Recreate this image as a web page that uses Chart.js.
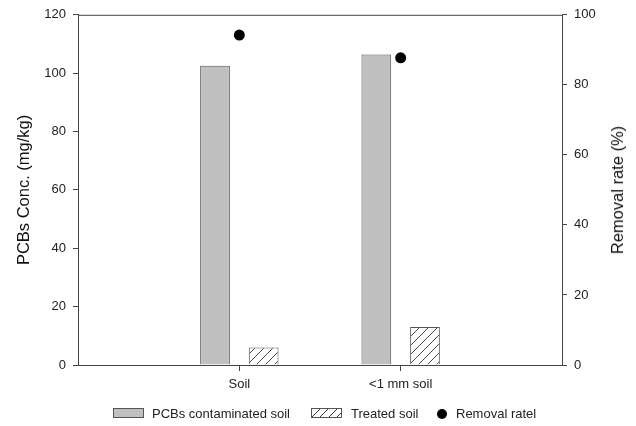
<!DOCTYPE html>
<html>
<head>
<meta charset="utf-8">
<script src="https://cdn.jsdelivr.net/npm/chart.js@4.4.1/dist/chart.umd.min.js"></script>
<style>
    body { margin: 0; background: #fff; font-family: "Liberation Sans", Arial, sans-serif; }
    #wrap { position: relative; width: 636px; height: 426px; }
    .sw { position: absolute; top: 408px; width: 31px; height: 10px; box-sizing: border-box; border: 1px solid #555; }
    .txt { position: absolute; top: 406px; font-size: 13px; line-height: 15px; color: #222; white-space: nowrap; }
    .dot { position: absolute; top: 409px; left: 437px; width: 10px; height: 10px; border-radius: 50%; background: #000; }
    #rtitle { position: absolute; left: 617px; top: 189.5px; transform: translate(-50%, -50%) rotate(-90deg);
              font-size: 16.5px; line-height: 20px; color: #111; white-space: nowrap; }
</style>
</head>
<body>
<div id="wrap">
    <canvas id="chart" width="636" height="426"></canvas>
    <div id="rtitle">Removal rate (%)</div>
    <div class="sw" style="left:113px;background:#c0c0c0;"></div>
    <div class="txt" style="left:152px;">PCBs contaminated soil</div>
    <div class="sw" style="left:311px;background:repeating-linear-gradient(135deg,#fff 0 5px,#333 5px 6px);"></div>
    <div class="txt" style="left:351px;">Treated soil</div>
    <div class="dot"></div>
    <div class="txt" style="left:456px;">Removal ratel</div>
</div>
<script>
const categories = ["", "Soil", "<1 mm soil", ""];
const contaminated = [null, 102.5, 106.4, null];
const treated = [null, 6.0, 13.0, null];
const removalRate = [null, 94.2, 87.7, null];

const axisColor = "#444";
const tickFont = { family: "'Liberation Sans', Arial, sans-serif", size: 13 };
const titleFont = { family: "'Liberation Sans', Arial, sans-serif", size: 16.5 };

function hatchPattern() {
    const c = document.createElement("canvas");
    c.width = 9; c.height = 9;
    const g = c.getContext("2d");
    g.fillStyle = "#fff";
    g.fillRect(0, 0, 9, 9);
    g.strokeStyle = "#333";
    g.lineWidth = 0.9;
    g.beginPath();
    g.moveTo(0, 9); g.lineTo(9, 0);
    g.moveTo(-1, 1); g.lineTo(1, -1);
    g.moveTo(8, 10); g.lineTo(10, 8);
    g.stroke();
    return g.createPattern(c, "repeat");
}

// top line of the plot frame
const frame = {
    id: "frame",
    afterDraw(chart) {
        const { ctx, chartArea: a } = chart;
        ctx.save();
        ctx.strokeStyle = axisColor;
        ctx.lineWidth = 1;
        ctx.beginPath();
        ctx.moveTo(a.left, a.top + 0.5);
        ctx.lineTo(a.right, a.top + 0.5);
        ctx.stroke();
        ctx.restore();
    }
};

const ctx = document.getElementById("chart").getContext("2d");
new Chart(ctx, {
    type: "bar",
    data: {
        labels: categories,
        datasets: [
            { type: "line", label: "Removal ratel", data: removalRate, yAxisID: "y1", showLine: false,
              pointRadius: 5.5, pointBorderWidth: 0, pointBackgroundColor: "#000", backgroundColor: "#000" },
            { label: "PCBs contaminated soil", data: contaminated, yAxisID: "y", backgroundColor: "#c0c0c0",
              borderColor: "#555", borderWidth: 1, categoryPercentage: 0.603, barPercentage: 0.611 },
            { label: "Treated soil", data: treated, yAxisID: "y", backgroundColor: hatchPattern(),
              borderColor: "#555", borderWidth: 1, categoryPercentage: 0.603, barPercentage: 0.611 }
        ]
    },
    options: {
        responsive: false,
        animation: false,
        layout: { padding: { top: 14, bottom: 20, left: 0, right: 0 } },
        plugins: { legend: { display: false }, tooltip: { enabled: false } },
        scales: {
            x: {
                type: "category",
                offset: false,
                grid: { offset: false, drawOnChartArea: false, tickLength: 6,
                        color: c => (c.index === 1 || c.index === 2) ? axisColor : "rgba(0,0,0,0)" },
                border: { color: axisColor },
                ticks: { font: tickFont, color: "#222", padding: 6, autoSkip: false, maxRotation: 0 },
                afterFit(s) { s.height = 41; }
            },
            y: {
                position: "left",
                min: 0, max: 120,
                ticks: { stepSize: 20, font: tickFont, color: "#222", padding: 7 },
                grid: { drawOnChartArea: false, tickLength: 5, color: axisColor },
                border: { color: axisColor },
                title: { display: true, text: "PCBs Conc. (mg/kg)", font: titleFont, color: "#111", padding: { top: 15, bottom: 0 } },
                afterFit(s) { s.width = 78; }
            },
            y1: {
                position: "right",
                min: 0, max: 100,
                ticks: { stepSize: 20, font: tickFont, color: "#222", padding: 7 },
                grid: { drawOnChartArea: false, tickLength: 5, color: axisColor },
                border: { color: axisColor },
                afterFit(s) { s.width = 74; }
            }
        }
    },
    plugins: [frame]
});
</script>
</body>
</html>
